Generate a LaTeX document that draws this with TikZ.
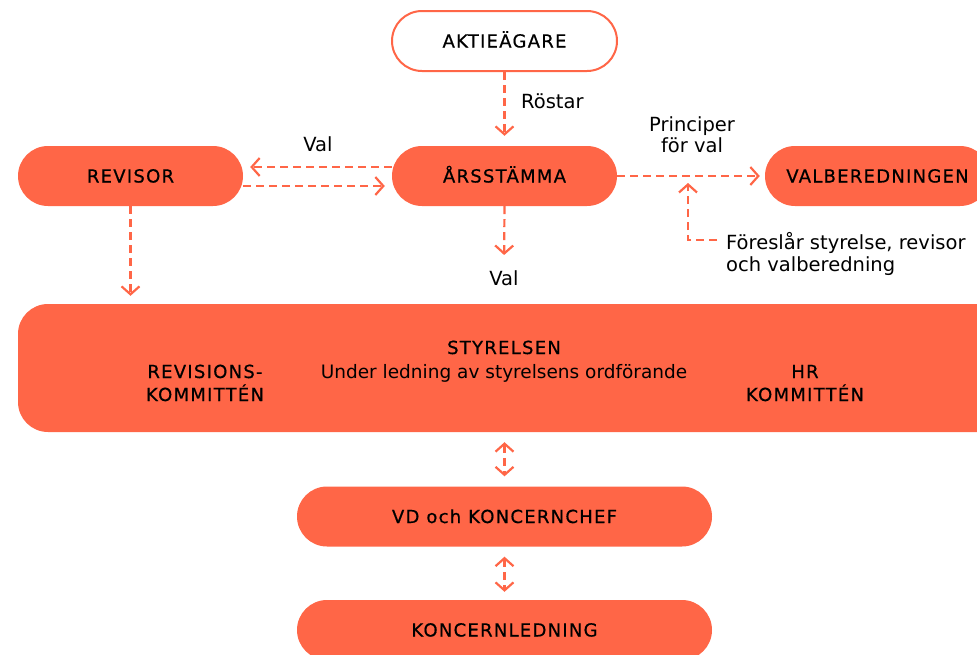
\documentclass[tikz,border=0pt]{standalone}
\usepackage{fontspec}
\setmainfont{DejaVu Sans}
\newfontfamily\capsfont[LetterSpace=7,FakeBold=0.6]{DejaVu Sans}
\usetikzlibrary{arrows.meta,shapes.misc}
\definecolor{tomat}{HTML}{FF6647}
\tikzset{
	pill/.style={rounded rectangle, fill=tomat, minimum width=225pt, minimum height=60pt, inner sep=0pt,
		text height=13pt, text depth=0pt, font=\capsfont\fontsize{18}{23}\selectfont},
	caps/.style={inner sep=0pt, align=center, font=\capsfont\fontsize{18}{23}\selectfont},
	lbl/.style={inner sep=0pt, font=\fontsize{19.5}{21}\selectfont},
	tip/.tip={Straight Barb[length=8pt,width=18pt,line width=2.2pt]},
	flow/.style={tomat, line width=2.2pt, dash pattern=on 8pt off 5pt, -tip},
	flowboth/.style={flow, tip-tip}
}
\begin{document}
\begin{tikzpicture}[x=1pt,y=-1pt]
			%%%%% START %%%%%
			\useasboundingbox (0,0) rectangle (977,654);
			
			\node[pill, fill=white, draw=tomat, line width=2pt] (aktie) at (504.5,41) {AKTIEÄGARE};
			\node[pill] (arsstamma) at (504.5,176) {ÅRSSTÄMMA};
			\node[pill] (revisor) at (130.5,176) {REVISOR};
			\node[pill] (valb) at (877.5,176) {VALBEREDNINGEN};
			
			\node[rectangle, rounded corners=30pt, fill=tomat, minimum width=992pt, minimum height=128pt] (board) at (514,368) {};
			\node[caps, anchor=base] (styr) at (504,354) {STYRELSEN};
			\node[lbl, anchor=base, font=\fontsize{18.5}{21}\selectfont] (ledning) at (504,378) {Under ledning av styrelsens ordförande};
			\node[caps, anchor=base] (revkom) at (205,401) {REVISIONS-\\KOMMITTÉN};
			\node[caps, anchor=base] (hrkom) at (805,401) {HR\\KOMMITTÉN};
			
			\node[pill, minimum width=415pt] (vd) at (504.5,516.5) {VD och KONCERNCHEF};
			\node[pill, minimum width=415pt] (ledgrp) at (504.5,630) {KONCERNLEDNING};
			
			% labels
			\node[lbl, anchor=base west] (rostar) at (521,108) {Röstar};
			\node[lbl, anchor=base] (valupp) at (318,151) {Val};
			\node[lbl, anchor=base, align=center] (princ) at (692,152) {Principer\\för val};
			\node[lbl, anchor=base west, align=left, font=\fontsize{19.5}{22}\selectfont] (forslag) at (726,271) {Föreslår styrelse, revisor\\och valberedning};
			\node[lbl, anchor=base] (valned) at (504,285) {Val};
			
			% arrows
			\draw[flow, shorten >=10pt] (aktie.south) -- (arsstamma.north);
			\draw[flow, shorten >=7pt] ([yshift=9pt]arsstamma.west) -- ([yshift=9pt]revisor.east);
			\draw[flow, shorten >=7pt] ([yshift=-10pt]revisor.east) -- ([yshift=-10pt]arsstamma.west);
			\draw[flow, shorten >=5pt] (arsstamma.east) -- (valb.west);
			\coordinate (ftip) at (688,183);
			\draw[flow, shorten <=9pt] (forslag.west |- 0,240) -| (ftip);
			\draw[flow, shorten >=15pt] (arsstamma.south) -- (valned.north);
			\draw[flow, shorten >=8pt] (revisor.south) -- (revisor.south |- board.north);
			\draw[flowboth, shorten <=10pt, shorten >=10pt] (board.south -| vd.north) -- (vd.north);
			\draw[flowboth, shorten <=10pt, shorten >=8pt] (vd.south) -- (ledgrp.north);
			
			%%%%% END %%%%%
\end{tikzpicture}
\end{document}
